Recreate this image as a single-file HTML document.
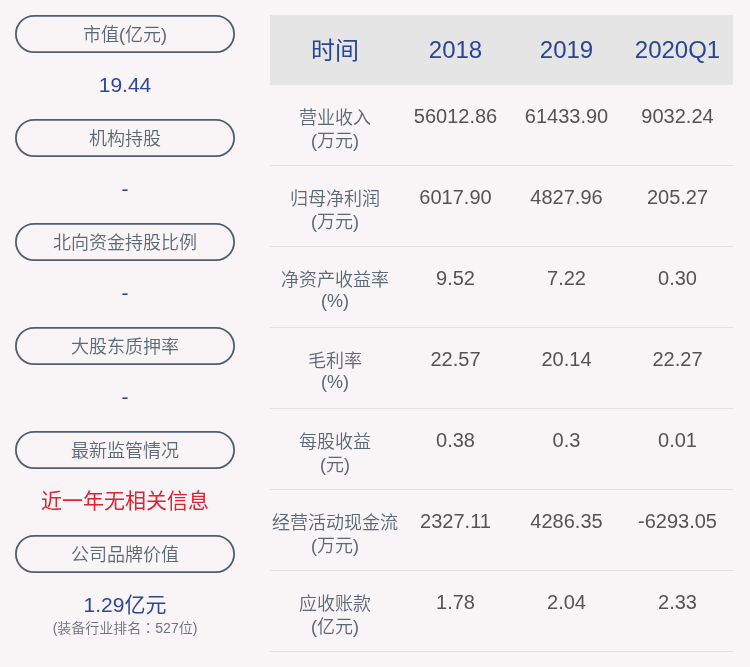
<!DOCTYPE html>
<html><head><meta charset="utf-8">
<style>
html,body{margin:0;padding:0;}
body{width:750px;height:667px;background:#f9f4f6;font-family:"Liberation Sans","Noto Sans CJK SC",sans-serif;position:relative;overflow:hidden;color:#5a6170;}
.pill{position:absolute;left:15px;width:220px;height:38px;text-align:center;line-height:40px;font-size:18px;color:#5b6876;font-weight:350;}
.pill svg{position:absolute;left:0;top:0;}
.val{position:absolute;left:15px;width:220px;text-align:center;font-size:21px;color:#2d4796;line-height:24px;}
.red{color:#dd2230;}
.sub{position:absolute;left:15px;width:220px;text-align:center;font-size:14px;color:#6b7280;line-height:16px;font-weight:350;}
table{position:absolute;left:270px;top:15px;width:463px;border-collapse:collapse;table-layout:fixed;}
th{background:#e5e5e5;height:70px;padding:0;font-weight:normal;font-size:24px;color:#2b4593;text-align:center;vertical-align:middle;}
td{height:80px;padding:0;border-bottom:1px solid #e1e1e1;text-align:center;vertical-align:top;font-size:20px;color:#545454;}
td.l{font-size:18px;line-height:24px;color:#5b6876;}
td div{padding-top:19px;line-height:24px;}
td.l div{padding-top:22px;font-weight:350;line-height:23px;}
</style></head><body>
<div class="pill" style="top:15px"><svg width="220" height="38" viewBox="0 0 220 38"><rect x="0.9" y="0.9" width="218.2" height="36.2" rx="18.1" fill="none" stroke="#4f5e6e" stroke-width="1.8"/></svg>市值(亿元)</div>
<div class="val" style="top:73px">19.44</div>
<div class="pill" style="top:119px"><svg width="220" height="38" viewBox="0 0 220 38"><rect x="0.9" y="0.9" width="218.2" height="36.2" rx="18.1" fill="none" stroke="#4f5e6e" stroke-width="1.8"/></svg>机构持股</div>
<div class="val" style="top:177px">-</div>
<div class="pill" style="top:223px"><svg width="220" height="38" viewBox="0 0 220 38"><rect x="0.9" y="0.9" width="218.2" height="36.2" rx="18.1" fill="none" stroke="#4f5e6e" stroke-width="1.8"/></svg>北向资金持股比例</div>
<div class="val" style="top:281px">-</div>
<div class="pill" style="top:327px"><svg width="220" height="38" viewBox="0 0 220 38"><rect x="0.9" y="0.9" width="218.2" height="36.2" rx="18.1" fill="none" stroke="#4f5e6e" stroke-width="1.8"/></svg>大股东质押率</div>
<div class="val" style="top:385px">-</div>
<div class="pill" style="top:431px"><svg width="220" height="38" viewBox="0 0 220 38"><rect x="0.9" y="0.9" width="218.2" height="36.2" rx="18.1" fill="none" stroke="#4f5e6e" stroke-width="1.8"/></svg>最新监管情况</div>
<div class="val red" style="top:489px">近一年无相关信息</div>
<div class="pill" style="top:535px"><svg width="220" height="38" viewBox="0 0 220 38"><rect x="0.9" y="0.9" width="218.2" height="36.2" rx="18.1" fill="none" stroke="#4f5e6e" stroke-width="1.8"/></svg>公司品牌价值</div>
<div class="val" style="top:593px">1.29亿元</div>
<div class="sub" style="top:619px">(装备行业排名<span style="font-family:'Noto Sans CJK TC',sans-serif">：</span>527位)</div>
<table>
<colgroup><col style="width:130px"><col style="width:111px"><col style="width:111px"><col style="width:111px"></colgroup>
<tr><th><span style="position:relative;top:-2px">时间</span></th><th>2018</th><th>2019</th><th>2020Q1</th></tr>
<tr><td class="l"><div>营业收入<br>(万元)</div></td><td><div>56012.86</div></td><td><div>61433.90</div></td><td><div>9032.24</div></td></tr>
<tr><td class="l"><div>归母净利润<br>(万元)</div></td><td><div>6017.90</div></td><td><div>4827.96</div></td><td><div>205.27</div></td></tr>
<tr><td class="l"><div>净资产收益率<br><span style="position:relative;top:-2px">(%)</span></div></td><td><div>9.52</div></td><td><div>7.22</div></td><td><div>0.30</div></td></tr>
<tr><td class="l"><div>毛利率<br><span style="position:relative;top:-2px">(%)</span></div></td><td><div>22.57</div></td><td><div>20.14</div></td><td><div>22.27</div></td></tr>
<tr><td class="l"><div>每股收益<br>(元)</div></td><td><div>0.38</div></td><td><div>0.3</div></td><td><div>0.01</div></td></tr>
<tr><td class="l"><div>经营活动现金流<br>(万元)</div></td><td><div>2327.11</div></td><td><div>4286.35</div></td><td><div>-6293.05</div></td></tr>
<tr><td class="l"><div>应收账款<br>(亿元)</div></td><td><div>1.78</div></td><td><div>2.04</div></td><td><div>2.33</div></td></tr>
</table>
</body></html>
